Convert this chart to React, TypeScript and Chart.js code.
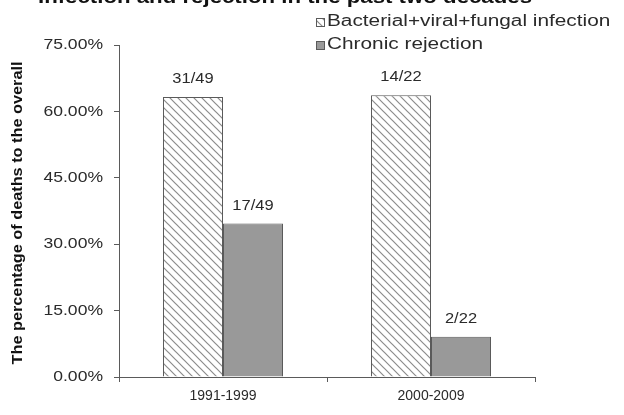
import React, { useEffect, useRef } from "react";
import { Chart, registerables } from "chart.js";

Chart.register(...registerables);

const chartTitle = "Infection and rejection in the past two decades";
const yAxisTitle = "The percentage of deaths to the overall";
const periods = ["1991-1999", "2000-2009"];
const infectionLabel = "Bacterial+viral+fungal infection";
const rejectionLabel = "Chronic rejection";
const infectionDeaths = [31, 14];
const rejectionDeaths = [17, 2];
const totalDeaths = [49, 22];
const yMin = 0;
const yMax = 75;
const yStep = 15;

const FONT = '"Liberation Sans", Arial, sans-serif';
const GREY_FILL = "#999999";
const EDGE = "#5a5a5a";
const TEXT = "#2a2a2a";

const pct = (n: number[], d: number[]) => n.map((v, i) => (v / d[i]) * 100);

function makeHatch(): CanvasPattern | string {
  const size = 8;
  const c = document.createElement("canvas");
  c.width = size;
  c.height = size;
  const g = c.getContext("2d");
  if (!g) return "#ffffff";
  g.fillStyle = "#ffffff";
  g.fillRect(0, 0, size, size);
  g.strokeStyle = "#8c8c8c";
  g.lineWidth = 1.2;
  g.beginPath();
  g.moveTo(-1, -1);
  g.lineTo(size + 1, size + 1);
  g.moveTo(-1, size - 1);
  g.lineTo(1, size + 1);
  g.moveTo(size - 1, -1);
  g.lineTo(size + 1, 1);
  g.stroke();
  return g.createPattern(c, "repeat") || "#ffffff";
}

// Draws text widened horizontally by `sx`, anchored like textAlign would.
function wideText(
  ctx: CanvasRenderingContext2D,
  text: string,
  x: number,
  y: number,
  sx: number,
  align: "left" | "center" | "right"
) {
  ctx.save();
  ctx.translate(x, y);
  ctx.scale(sx, 1);
  ctx.textAlign = align;
  ctx.fillText(text, 0, 0);
  ctx.restore();
}

const decorations = {
  id: "decorations",
  afterDatasetsDraw(chart: any) {
    const ctx: CanvasRenderingContext2D = chart.ctx;
    ctx.save();

    // y tick labels
    const yScale = chart.scales.y;
    ctx.fillStyle = TEXT;
    ctx.font = `15px ${FONT}`;
    ctx.textBaseline = "middle";
    for (let v = yMin; v <= yMax; v += yStep) {
      wideText(ctx, `${v.toFixed(2)}%`, 103, yScale.getPixelForValue(v), 1.17, "right");
    }

    // count labels above bars
    ctx.font = `15px ${FONT}`;
    const counts = [infectionDeaths, rejectionDeaths];
    counts.forEach((arr, di) => {
      const meta = chart.getDatasetMeta(di);
      meta.data.forEach((bar: any, i: number) => {
        wideText(ctx, `${arr[i]}/${totalDeaths[i]}`, bar.x, bar.y - 18, 1.1, "center");
      });
    });

    // chart title (sits at the very top edge)
    ctx.font = `bold 18px ${FONT}`;
    ctx.textBaseline = "alphabetic";
    ctx.fillStyle = "#111";
    wideText(ctx, chartTitle, 285, 3, 1.235, "center");

    // y axis title
    ctx.save();
    ctx.translate(18, 213);
    ctx.rotate(-Math.PI / 2);
    ctx.font = `bold 14px ${FONT}`;
    const w = ctx.measureText(yAxisTitle).width;
    ctx.scale(303 / w, 1);
    ctx.textAlign = "center";
    ctx.textBaseline = "middle";
    ctx.fillStyle = "#111";
    ctx.fillText(yAxisTitle, 0, 0);
    ctx.restore();

    // legend
    const hatch = chart.data.datasets[0].backgroundColor;
    const rows = [
      { y: 21.5, fill: hatch, label: infectionLabel },
      { y: 44.5, fill: GREY_FILL, label: rejectionLabel },
    ];
    ctx.font = `16px ${FONT}`;
    ctx.textBaseline = "middle";
    rows.forEach((r) => {
      ctx.fillStyle = r.fill;
      ctx.fillRect(316, Math.round(r.y - 4), 8, 8);
      ctx.strokeStyle = EDGE;
      ctx.lineWidth = 1;
      ctx.strokeRect(316.5, Math.round(r.y - 4) + 0.5, 8, 8);
      ctx.fillStyle = TEXT;
      wideText(ctx, r.label, 327, r.y, 1.3, "left");
    });

    ctx.restore();
  },
};

export default function App() {
  const ref = useRef<HTMLCanvasElement | null>(null);

  useEffect(() => {
    document.body.style.margin = "0";
    if (!ref.current) return;
    const hatch = makeHatch();
    const chart = new Chart(ref.current, {
      type: "bar",
      data: {
        labels: periods,
        datasets: [
          {
            label: infectionLabel,
            data: pct(infectionDeaths, totalDeaths),
            backgroundColor: hatch as any,
            borderColor: EDGE,
            borderWidth: 1,
            categoryPercentage: 0.577,
            barPercentage: 1,
          },
          {
            label: rejectionLabel,
            data: pct(rejectionDeaths, totalDeaths),
            backgroundColor: GREY_FILL,
            borderColor: EDGE,
            borderWidth: 1,
            categoryPercentage: 0.577,
            barPercentage: 1,
          },
        ],
      },
      options: {
        responsive: false,
        animation: false,
        devicePixelRatio: 1,
        layout: { padding: { left: 0, right: 89, top: 45, bottom: 0 } },
        plugins: {
          legend: { display: false },
          title: { display: false },
          tooltip: { enabled: false },
        },
        scales: {
          x: {
            offset: true,
            afterFit: (s: any) => {
              s.height = 38;
            },
            grid: {
              offset: true,
              drawOnChartArea: false,
              drawTicks: true,
              tickLength: 5,
              color: EDGE,
            },
            border: { color: EDGE, width: 1 },
            ticks: { color: TEXT, font: { family: FONT, size: 14 }, padding: 6 },
          },
          y: {
            min: yMin,
            max: yMax,
            afterFit: (s: any) => {
              s.width = 119;
            },
            grid: {
              drawOnChartArea: false,
              drawTicks: true,
              tickLength: 5,
              color: EDGE,
            },
            border: { color: EDGE, width: 1 },
            ticks: {
              stepSize: yStep,
              display: false,
            },
          },
        },
      },
      plugins: [decorations],
    });
    return () => chart.destroy();
  }, []);

  return <canvas ref={ref} width={624} height={415} style={{ display: "block" }} />;
}
